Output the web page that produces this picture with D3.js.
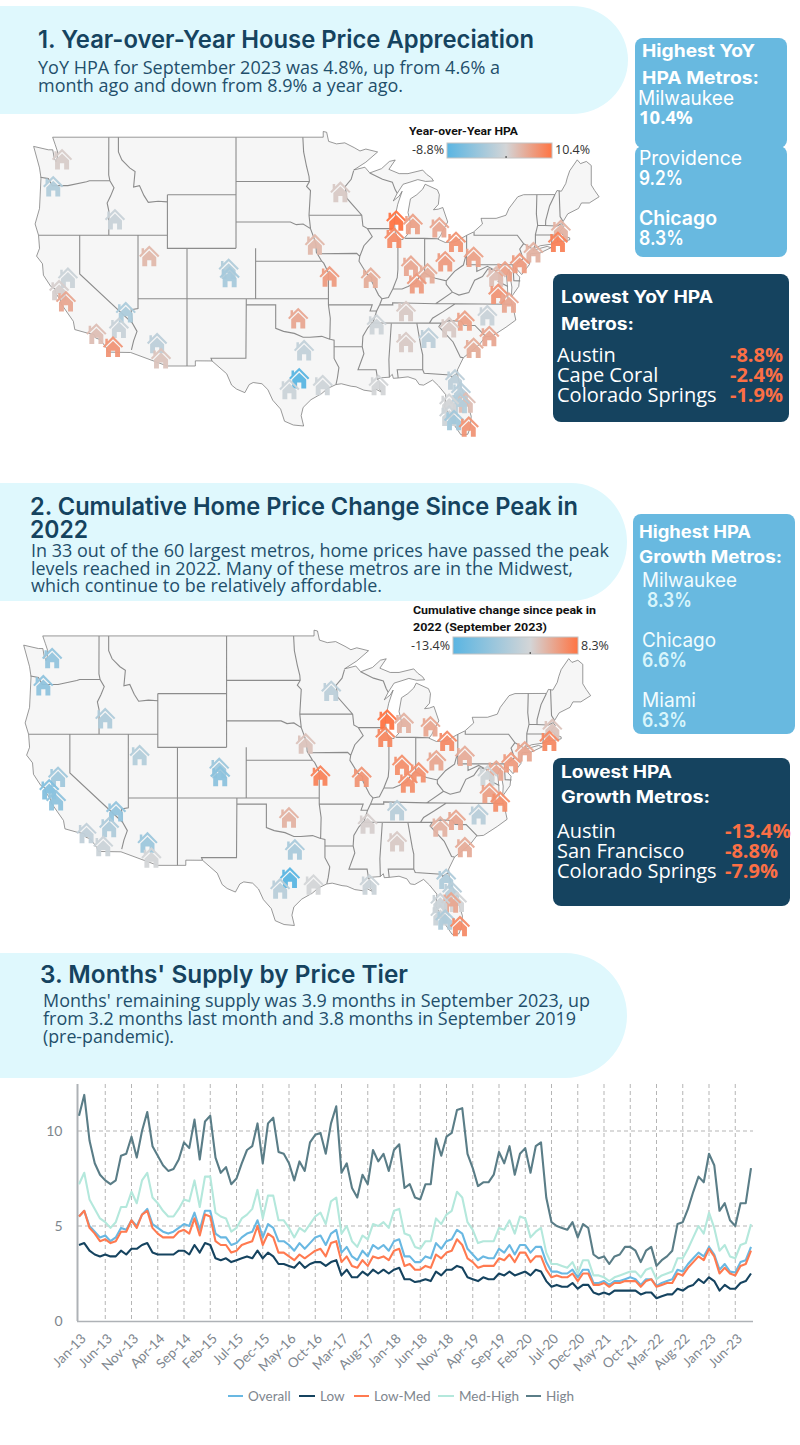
<!DOCTYPE html>
<html><head><meta charset="utf-8"><style>
html,body{margin:0;padding:0;background:#fff}
svg{display:block}
text{font-family:"Open Sans",sans-serif}
.ttl{font-family:Inter,sans-serif;font-weight:600;fill:#15435f}
.body{fill:#1f4f6b;font-size:17px}
.hd{font-family:Inter,sans-serif;font-weight:700;fill:#fff;font-size:17px}
</style></head><body>
<script src="https://cdn.jsdelivr.net/npm/d3@7"></script>
<script>
// ---------- chart 3 data: months' supply (Jan-13 .. Sep-23)
const tickLabels=["Jan-13","Jun-13","Nov-13","Apr-14","Sep-14","Feb-15","Jul-15","Dec-15","May-16","Oct-16","Mar-17","Aug-17","Jan-18","Jun-18","Nov-18","Apr-19","Sep-19","Feb-20","Jul-20","Dec-20","May-21","Oct-21","Mar-22","Aug-22","Jan-23","Jun-23"];
const overall=[5.5,5.8,5.0,4.7,4.4,4.5,4.2,4.4,4.9,4.8,5.3,5.0,5.6,5.9,5.1,4.9,4.7,4.6,4.7,4.9,5.1,5.0,5.7,4.8,5.8,5.8,4.6,4.4,4.4,4.0,4.1,4.4,4.6,4.7,5.3,4.4,5.1,4.9,4.2,4.2,4.0,3.7,4.1,3.8,4.1,4.4,4.5,4.0,4.6,4.8,3.6,3.9,3.4,3.2,3.7,3.4,4.0,3.8,4.0,3.7,4.2,4.3,3.4,3.4,3.1,3.1,3.4,3.3,4.1,3.8,4.2,4.3,4.8,4.6,3.8,3.5,3.2,3.4,3.3,3.3,3.8,3.6,4.0,3.5,4.0,4.0,3.6,3.9,3.9,3.1,2.6,2.6,2.5,2.5,2.7,2.3,2.7,2.7,2.0,2.0,2.1,1.9,2.1,2.1,2.2,2.3,2.2,1.9,2.2,2.2,1.85,2.0,2.1,2.2,2.7,2.6,3.0,3.3,3.6,3.4,3.9,3.5,2.7,3.0,2.6,2.55,3.1,3.2,3.9];
const low=[4.0,4.1,3.7,3.5,3.4,3.5,3.4,3.4,3.7,3.5,3.8,3.8,4.0,4.1,3.6,3.5,3.5,3.5,3.5,3.7,3.7,3.5,4.0,3.6,4.1,4.0,3.3,3.2,3.3,3.1,3.2,3.3,3.4,3.3,3.7,3.3,3.6,3.4,3.0,3.0,2.9,2.8,3.1,2.8,3.0,3.1,3.1,2.9,3.1,3.2,2.4,2.7,2.3,2.3,2.6,2.4,2.7,2.5,2.7,2.5,2.7,2.8,2.2,2.2,2.05,2.1,2.2,2.1,2.6,2.4,2.7,2.7,2.9,2.8,2.3,2.2,2.1,2.3,2.2,2.2,2.5,2.4,2.6,2.4,2.5,2.6,2.4,2.7,2.6,2.1,1.8,1.9,1.8,1.8,2.0,1.7,1.9,1.9,1.5,1.4,1.5,1.4,1.6,1.6,1.6,1.6,1.6,1.4,1.5,1.5,1.2,1.3,1.4,1.4,1.7,1.6,1.8,1.9,2.2,2.0,2.3,2.1,1.6,1.9,1.7,1.7,2.0,2.1,2.5];
const lowMed=[5.5,5.8,4.9,4.6,4.2,4.3,4.1,4.2,4.7,4.7,5.3,4.9,5.6,5.8,4.9,4.6,4.4,4.4,4.4,4.7,4.8,4.6,5.4,4.5,5.6,5.5,4.2,4.0,4.0,3.6,3.7,4.0,4.1,4.2,5.0,4.0,4.6,4.4,3.6,3.6,3.4,3.2,3.5,3.3,3.5,3.7,3.8,3.4,4.1,4.2,3.1,3.4,2.9,2.8,3.2,2.9,3.4,3.3,3.4,3.2,3.7,3.8,2.9,3.0,2.7,2.7,2.9,2.8,3.5,3.3,3.6,3.7,4.3,4.0,3.3,3.1,2.8,2.9,2.9,2.9,3.3,3.2,3.5,3.1,3.6,3.6,3.1,3.4,3.4,2.7,2.3,2.4,2.3,2.3,2.5,2.1,2.5,2.5,1.9,1.9,2.0,1.8,2.0,2.0,2.1,2.1,2.1,1.8,2.1,2.2,1.8,1.9,2.0,2.0,2.5,2.4,2.8,3.1,3.4,3.2,3.8,3.4,2.5,2.8,2.5,2.4,2.9,3.0,3.7];
const medHigh=[7.2,7.8,6.4,5.9,5.4,5.2,4.9,5.2,6.0,6.0,6.8,6.2,7.4,7.8,6.5,6.2,5.8,5.5,5.5,5.9,6.4,6.3,7.4,6.0,7.6,7.6,5.7,5.5,5.4,4.7,4.9,5.4,5.6,5.9,6.9,5.4,6.6,6.6,5.3,5.3,4.9,4.4,4.9,4.7,5.1,5.5,5.7,5.1,6.3,6.5,4.6,5.0,4.2,3.9,4.5,4.3,5.1,5.0,5.2,4.9,5.8,5.9,4.6,4.5,3.9,3.8,4.2,4.2,5.4,5.1,5.6,5.8,6.8,6.5,5.2,4.8,4.1,4.2,4.2,4.2,4.9,4.8,5.3,4.6,5.5,5.4,4.4,4.7,4.9,3.6,3.0,3.0,2.9,2.8,3.1,2.5,3.2,3.2,2.4,2.4,2.3,2.1,2.3,2.4,2.5,2.6,2.6,2.3,2.7,2.8,2.2,2.4,2.5,2.6,3.3,3.3,3.8,4.4,5.0,4.6,5.7,4.9,3.7,4.0,3.4,3.3,4.0,4.1,5.1];
const high=[10.8,11.9,9.5,8.3,7.7,7.4,7.2,7.4,8.7,8.8,9.7,8.6,10.0,11.0,9.2,8.7,8.2,7.9,8.0,8.5,9.4,9.1,10.6,8.5,10.5,10.8,8.6,7.8,8.1,7.2,7.5,8.3,9.0,9.2,10.4,8.3,10.4,10.7,8.9,8.8,8.3,7.4,8.4,7.9,9.4,9.8,9.9,8.8,10.4,11.3,7.8,8.3,7.0,6.5,7.7,7.2,9.0,8.4,8.8,7.9,9.0,9.3,7.0,7.2,6.5,6.4,7.2,7.2,9.6,8.7,9.7,9.9,11.1,11.2,8.8,8.05,7.1,7.3,7.3,7.7,8.9,8.3,9.2,7.7,8.8,9.1,7.8,9.2,9.4,6.5,5.2,5.0,4.9,4.8,5.2,4.4,5.1,4.9,3.5,3.3,3.4,3.0,3.4,3.5,3.9,3.9,3.7,3.1,3.7,3.9,2.9,3.2,3.4,3.7,5.1,5.2,5.9,6.8,7.6,7.3,8.8,8.2,5.8,6.2,5.3,5.0,6.2,6.2,8.05];
const seriesNames=["Overall","Low","Low-Med","Med-High","High"];
const seriesColors=["#69b8e2","#15435f","#ff7a50","#b4e8dc","#5a7d87"];
const seriesValues=[overall,low,lowMed,medHigh,high];
const yTicks=[0,5,10];

// ---------- metros
const metroNames=["Seattle","Portland","Boise","Minneapolis","Salt Lake City","Denver","Colorado Springs","Omaha","Kansas City","St. Louis","Milwaukee","Grand Rapids","Detroit","Chicago","Cleveland","Columbus","Pittsburgh","Indianapolis","Cincinnati","Louisville","Boston","Providence","New York","Philadelphia","Baltimore","Washington","Richmond","Virginia Beach","Raleigh","Charlotte","Atlanta","Greenville","Myrtle Beach","Charleston","Nashville","Memphis","Birmingham","New Orleans","Oklahoma City","Dallas","Austin","San Antonio","Houston","Phoenix","Tucson","Las Vegas","Sacramento","San Francisco","San Jose","Riverside","Los Angeles","San Diego","Jacksonville","Orlando","Tampa","Deltona","Palm Bay","North Port","Cape Coral","Miami"];
const metroLon=[-121.8,-122.7,-116.4,-93.4,-112.9,-104.8,-104.7,-96.0,-94.5,-90.3,-87.7,-86.0,-83.3,-87.9,-81.6,-82.7,-79.8,-86.2,-84.5,-85.6,-70.9,-71.2,-73.7,-75.1,-76.6,-77.5,-77.3,-76.2,-78.4,-80.7,-84.4,-82.3,-78.2,-79.8,-86.7,-89.7,-86.7,-89.5,-97.7,-97.1,-97.6,-98.6,-95.2,-112.1,-111.7,-115.3,-121.2,-122.1,-121.4,-116.0,-118.3,-116.6,-81.7,-81.1,-82.3,-81.2,-80.6,-82.3,-81.8,-80.3];
const metroLat=[47.5,45.6,43.2,45.2,40.4,39.4,38.75,41.3,38.8,38.7,43.1,42.85,42.6,41.8,41.5,40.0,40.35,39.65,39.05,38.25,42.4,41.5,40.7,39.85,39.2,38.8,37.4,36.7,35.65,35.2,33.75,34.65,33.9,32.9,36.0,34.9,33.4,29.65,35.4,32.7,30.25,29.3,29.65,33.3,32.0,35.9,38.7,37.7,36.8,34.6,34.1,33.0,30.15,29.0,28.0,28.05,28.1,26.9,26.5,25.9];
const hpaYoY=[2.8,-1,1,3,4.5,-1,-1.9,4.5,7,5.5,10.4,6.5,6,8.3,7.7,7,6.5,6,5.5,7,5,9.2,5,7,6.5,4,7.5,6,1,6.5,0,3,6,5.5,3,1.5,3,2,6,0.5,-8.8,1.2,1.5,0,3.5,-1.5,1.2,2.5,6,1,4,7.5,0,-0.5,2,-0.8,4,1.5,-2.4,7.5];
const hpaPeak=[-7,-7.5,-4,-2.5,-3.5,-6,-7.9,1.5,7,5.5,8.3,3,4,6.6,6.3,4,3.5,6,5.8,6,1.5,6.5,4,5,4,-0.5,4.5,6,-3,4,null,3,null,3.5,-3,0.5,1,-1,3,-4.5,-13.4,-3,0,-6,0,-7,-5.5,-8.8,-7.5,-4,-2,-1,-4,-3,-1,4,0,-1,-4,6.3];

// ---------- geography: [lon,lat] polylines
const usOutline=[[-124.7,48.38],[-123.2,48.15],[-122.75,48.15],[-122.6,47.6],[-122.4,47.3],[-122.3,47.6],[-122.25,48.0],[-122.5,48.5],[-122.76,49],[-95.15,49],[-95.15,49.38],[-94.8,49.33],[-94.6,48.72],[-93.8,48.55],[-92.95,48.62],[-92,48.3],[-91.4,48.07],[-90.8,48.2],[-89.6,48],[-90.8,47.3],[-92.05,46.75],[-90.9,46.95],[-90.4,46.55],[-89.2,46.85],[-88.4,47.35],[-87.8,47.45],[-88.45,46.8],[-87.4,46.5],[-86.5,46.5],[-85,46.75],[-84.6,46.45],[-84.1,46.2],[-83.9,45.98],[-84.7,45.95],[-85.5,46.08],[-86.3,45.9],[-87,45.75],[-87.6,45.1],[-88,44.55],[-87.4,44.9],[-87.1,45.25],[-87.55,44.3],[-87.9,43.1],[-87.8,42.3],[-87.55,41.7],[-87,41.68],[-86.5,42.1],[-86.2,42.8],[-86.5,43.7],[-86.25,44.7],[-85.6,45],[-85,45.4],[-84.75,45.75],[-83.5,45.35],[-83.3,45],[-83.4,44.3],[-83.9,43.9],[-83.4,43.95],[-82.95,44.07],[-82.45,43],[-82.9,42.4],[-83.15,42],[-83.45,41.7],[-82.7,41.45],[-81.7,41.5],[-80.5,42],[-79.8,42.25],[-78.9,42.85],[-79.05,43.27],[-77.5,43.27],[-76.5,43.5],[-76.2,44],[-75.3,44.85],[-74.7,45],[-71.5,45.01],[-71.3,45.3],[-70.85,45.25],[-70.4,45.8],[-70.25,46.2],[-70,46.7],[-69.23,47.46],[-68.9,47.2],[-68.3,47.35],[-67.8,47.07],[-67.8,45.7],[-67.45,45.3],[-67,44.85],[-68,44.4],[-68.8,44.4],[-69.1,44],[-70.2,43.6],[-70.7,43],[-70.8,42.85],[-70.6,42.65],[-71,42.3],[-70.6,41.95],[-70,41.8],[-70,41.65],[-70.6,41.55],[-71.2,41.5],[-71.4,41.45],[-71.85,41.32],[-73,41.2],[-73.65,40.98],[-73.75,40.85],[-72.3,41.15],[-71.9,41.05],[-73,40.65],[-74,40.58],[-74,40.4],[-74.1,39.75],[-74.9,38.95],[-75.55,39.5],[-75.4,39],[-75.1,38.75],[-75.2,38],[-75.95,37.15],[-75.9,37.95],[-76.2,39.35],[-76.45,38.9],[-76.35,38],[-76.3,37],[-75.98,36.85],[-75.75,36.2],[-75.5,35.25],[-76.5,34.65],[-77.9,33.9],[-78.6,33.85],[-79.2,33.2],[-79.9,32.7],[-80.85,32.05],[-81.45,31],[-81.4,30.4],[-81.25,29.8],[-80.6,28.45],[-80.05,26.85],[-80.15,25.8],[-80.4,25.2],[-81.1,25.15],[-81.75,26],[-82.05,26.6],[-82.75,27.7],[-82.65,28.8],[-83.4,29.6],[-84,30.1],[-84.9,29.65],[-85.35,29.7],[-85.7,30.15],[-86.5,30.38],[-87.5,30.28],[-88,30.25],[-88.1,30.6],[-88.4,30.35],[-89.2,30.3],[-89.6,30.18],[-89.4,29.9],[-89.4,29.3],[-89.15,29],[-89.8,29.3],[-90.2,29.1],[-91,29.2],[-91.8,29.5],[-92.3,29.55],[-93.3,29.77],[-93.85,29.7],[-94.7,29.35],[-95.3,28.9],[-96.4,28.35],[-97.2,27.65],[-97.4,26.9],[-97.15,25.96],[-98.2,26.05],[-99.1,26.4],[-99.5,27.5],[-100.3,28.3],[-100.8,29.25],[-101.4,29.77],[-102.3,29.88],[-102.7,29.7],[-103.15,28.98],[-104,29.3],[-104.5,29.65],[-105,30.65],[-106.5,31.77],[-108.2,31.78],[-108.2,31.33],[-111.07,31.33],[-114.8,32.5],[-117.12,32.53],[-117.25,32.85],[-117.9,33.6],[-118.4,33.75],[-118.5,34.03],[-119.2,34.15],[-120.5,34.45],[-120.65,35.15],[-121.9,36.6],[-122,36.95],[-122.5,37.5],[-122.5,37.8],[-122.95,38],[-123.7,38.9],[-123.8,39.8],[-124.4,40.4],[-124.1,41],[-124.2,42],[-124.55,42.85],[-124.1,44],[-123.95,46.2],[-124.1,46.9],[-124.7,48.38]];
const stateBorders=[
[[-124,46.25],[-123.2,46.15],[-122.8,45.65],[-121.2,45.65],[-119.3,45.93],[-119,46],[-116.92,46]],
[[-117.03,49],[-117.04,46.4],[-116.92,46],[-116.5,45.5],[-116.85,44.9],[-117.2,44.4],[-117.03,43.83],[-117.03,42]],
[[-116.05,49],[-116.05,48],[-115.7,47.45],[-114.9,46.9],[-114.35,46.65],[-114.5,45.55],[-113.9,45.65],[-113.45,44.95],[-113,44.45],[-112,44.53],[-111.05,44.48]],
[[-124.2,42],[-111.05,42]],
[[-111.05,45],[-111.05,41],[-104.05,41]],
[[-111.05,45],[-104.05,45]],
[[-111.05,41],[-109.05,41]],
[[-120,42],[-120,39],[-114.63,35]],
[[-114.05,42],[-114.05,36.2],[-114.75,36.1],[-114.63,35],[-114.15,34.3],[-114.5,33.5],[-114.72,32.72]],
[[-114.05,37],[-94.62,37]],
[[-109.05,41],[-109.05,31.33]],
[[-104.05,49],[-104.05,41]],
[[-104.05,45.94],[-96.56,45.94]],
[[-104.05,43],[-98.5,43],[-97.9,42.8],[-97.2,42.85],[-96.45,42.5]],
[[-102.05,41],[-102.05,37]],
[[-102.05,40],[-95.3,40]],
[[-103,37],[-103.04,32],[-106.6,32],[-106.5,31.77]],
[[-103,36.5],[-100,36.5],[-100,34.56],[-99.2,34.3],[-98.1,34.13],[-97.2,33.8],[-96.5,33.8],[-95.3,33.88],[-94.48,33.64]],
[[-94.62,37],[-94.62,36.5],[-94.43,35.4],[-94.48,33.64],[-94.04,33.55],[-94.04,31.99],[-93.55,31.2],[-93.7,30.3],[-93.85,29.7]],
[[-94.04,33.02],[-91.17,33]],
[[-94.62,36.5],[-90.15,36.5],[-90.37,36],[-89.7,36]],
[[-94.62,37],[-94.62,39.1],[-95.1,39.85],[-95.3,40],[-95.85,40.7],[-95.9,41.3],[-96.1,41.8],[-96.45,42.5],[-96.6,43.5],[-96.45,45.3],[-96.85,45.6],[-96.56,45.94],[-96.6,46.3],[-96.85,47],[-97.15,48],[-97.23,49]],
[[-96.6,43.5],[-91.22,43.5]],
[[-95.77,40.58],[-91.73,40.61],[-91.42,40.38]],
[[-92.05,46.7],[-92.3,46.1],[-92.9,45.6],[-92.75,44.75],[-91.22,43.5],[-91.1,42.7],[-90.64,42.5],[-90.15,41.9],[-91,41.2],[-91.42,40.38],[-91.5,40],[-90.7,39],[-90.2,38.7],[-90.2,38.4],[-89.5,37.3],[-89.15,37],[-89.4,36.5],[-89.7,36],[-90.05,35.1],[-90.6,34.6],[-91.1,33.9],[-91.17,33],[-91,32.4],[-91.6,31],[-89.75,31],[-89.6,30.18]],
[[-90.4,46.55],[-89.1,46.1],[-88.1,45.9],[-87.8,45.35],[-87.6,45.1]],
[[-90.64,42.5],[-87.8,42.5]],
[[-87.53,41.7],[-87.53,39.35],[-87.6,38.7],[-88.05,37.8]],
[[-89.15,37],[-88.5,37.1],[-88.05,37.8],[-87.1,37.8],[-86.5,38],[-85.7,38.3],[-85.4,38.7],[-84.8,39.1],[-84.2,38.8],[-83.7,38.65],[-82.6,38.45],[-81.75,39.2],[-80.85,39.7],[-80.52,40.64]],
[[-84.8,39.1],[-84.8,41.76]],
[[-86.8,41.76],[-84.8,41.76],[-83.45,41.73]],
[[-80.52,42],[-80.52,39.72],[-75.79,39.72],[-75.7,38.46],[-75.05,38.45]],
[[-79.76,42.25],[-79.76,42],[-75.35,42],[-74.7,41.36],[-75.1,40.95],[-74.75,40.2],[-75.4,39.8]],
[[-79.48,39.72],[-79.48,39.2],[-78.4,39.6],[-77.72,39.32],[-78.35,39.4],[-78.9,38.8],[-79.7,38.5],[-80.3,37.5],[-81.3,37.3],[-81.97,37.54],[-82.6,38.17],[-82.6,38.45]],
[[-81.97,37.54],[-83.68,36.6]],
[[-89.4,36.5],[-88.05,36.5],[-88.07,36.68],[-83.68,36.6],[-81.68,36.59],[-75.87,36.55]],
[[-77.72,39.32],[-77.05,38.85],[-77.3,38.4],[-76.3,38]],
[[-90.3,35],[-84.32,34.99],[-84,35.4],[-82.9,35.95],[-81.68,36.59]],
[[-84.32,34.99],[-83.1,35],[-82.3,35.2],[-81.05,35.15],[-80.8,34.82],[-79.67,34.8],[-78.55,33.86]],
[[-83.1,35],[-83.35,34.7],[-81.9,33.4],[-81.15,32.1],[-80.85,32.05]],
[[-85.6,34.98],[-85.15,32.85],[-85,32.3],[-85,31],[-87.6,31],[-87.5,30.28]],
[[-85,31],[-84.85,30.7],[-82.2,30.55],[-82.05,30.35],[-81.45,30.7]],
[[-88.2,35],[-88.45,31.9],[-88.4,30.35]],
[[-73.35,45],[-73.4,43.6],[-73.27,42.75],[-73.5,42.05],[-73.5,41.3],[-73.65,41]],
[[-71.5,45.01],[-72.05,44.2],[-72.45,43.1],[-72.46,42.73]],
[[-73.27,42.75],[-71.3,42.7],[-70.85,42.87]],
[[-73.5,42.04],[-71.38,42.02],[-71.2,41.5]],
[[-71.8,42.02],[-71.85,41.32]],
[[-71.08,45.3],[-70.98,43.4],[-70.7,43.07]],
[[-74.7,41.36],[-73.9,41]]
];

const W=800,H=1445,blue="#5ab5e2",mid="#d3d5d7",orange="#ff7443";
const svg=d3.select("body").append("svg").attr("width",W).attr("height",H).attr("viewBox",`0 0 ${W} ${H}`);
const defs=svg.append("defs");

function banner(y0,y1,right,rx){const ry=(y1-y0)/2;
  svg.append("path").attr("fill","#dff8fd").attr("d",`M0,${y0}H${right-rx}A${rx},${ry} 0 0 1 ${right-rx},${y1}H0Z`);}
function txt(t,x,y,size,cls,fill,weight,len){const n=svg.append("text").attr("x",x).attr("y",y).text(t);
  if(cls)n.attr("class",cls);if(size)n.style("font-size",size+"px");if(fill)n.style("fill",fill);if(weight)n.style("font-weight",weight);
  if(len)n.attr("textLength",len).attr("lengthAdjust","spacingAndGlyphs");return n;}
function panel(x,y,w,h,c){svg.append("rect").attr("x",x).attr("y",y).attr("width",w).attr("height",h).attr("rx",8).attr("fill",c);}

const house="M-10.2,-0.3 L-7.7,-2.9 L-7.7,-7.9 L-5.2,-7.9 L-5.2,-5.5 L0,-10.6 L10.2,-0.3 L8.7,1.1 L0,-7.5 L-8.7,1.1 Z M-7,1.1 L0,-5.7 L7,1.1 L7,10.2 L2.1,10.2 L2.1,4.1 L-2.1,4.1 L-2.1,10.2 L-7,10.2 Z";

function drawMap(scale,tx,ty,values,domain,range){
  const merc=d3.geoMercator().scale(scale).translate([tx,ty]);
  const planar=d3.geoTransform({point(x,y){const p=merc([x,y]);this.stream.point(p[0],p[1]);}});
  const path=d3.geoPath(planar);
  const g=svg.append("g");
  g.append("path").datum({type:"Polygon",coordinates:[usOutline]}).attr("d",path).attr("fill","#f6f6f6").attr("stroke","#6f6f6f").attr("stroke-width",0.7).attr("stroke-linejoin","round");
  g.append("path").datum({type:"MultiLineString",coordinates:stateBorders}).attr("d",path).attr("fill","none").attr("stroke","#8c8c8c").attr("stroke-width",1.1);
  const color=d3.scaleLinear().domain(domain).range(range).interpolate(d3.interpolateRgb);
  const idx=d3.range(metroNames.length).filter(i=>values[i]!=null).sort((a,b)=>metroLat[b]-metroLat[a]);
  g.selectAll("path.h").data(idx).join("path").attr("class","h").attr("d",house)
   .attr("transform",i=>{const p=merc([metroLon[i],metroLat[i]]);return `translate(${p[0]},${p[1]})`;})
   .attr("fill",i=>color(values[i])).attr("opacity",0.95).append("title").text(i=>metroNames[i]);
}
function legend(id,x0,x1,y0,y1,domain,lo,hi,loX,hiX,txtY){
  const s=d3.scaleLinear().domain([domain[0],domain[2]]).range([0,100]);
  const grad=defs.append("linearGradient").attr("id",id);
  grad.selectAll("stop").data(domain).join("stop").attr("offset",d=>s(d)+"%").attr("stop-color",(d,i)=>[blue,mid,orange][i]);
  svg.append("rect").attr("x",x0).attr("y",y0).attr("width",x1-x0).attr("height",y1-y0).attr("fill",`url(#${id})`).attr("stroke","#c4c4c4").attr("stroke-width",1);
  const tx=x0+(x1-x0)*s(domain[1])/100;
  svg.append("line").attr("x1",tx).attr("x2",tx).attr("y1",y1-2).attr("y2",y1).attr("stroke","#333");
  txt(lo,loX,txtY,12.5,null,"#333").attr("text-anchor","end");
  txt(hi,hiX,txtY,12.5,null,"#333");
}

// ---- section 1
banner(6,114,628,56);
txt("1. Year-over-Year House Price Appreciation",38,48,24.5,"ttl",null,null,496);
txt("YoY HPA for September 2023 was 4.8%, up from 4.6% a",38,74,18.5,"body",null,null,462);
txt("month ago and down from 8.9% a year ago.",38,92,18.5,"body",null,null,365);
drawMap(561.5,1255.7,689.6,hpaYoY,[-8.8,2,10.4],[blue,mid,orange]);
txt("Year-over-Year HPA",409,135,10.5,null,"#111","700",109).style("font-family","Roboto,sans-serif");
legend("g1",447,552,143,158,[-8.8,2,10.4],"-8.8%","10.4%",444,555,154);
panel(635,38,152,110,"#68b9e0");panel(635,146,152,111,"#68b9e0");
txt("Highest YoY",642,57,18,"hd",null,null,113);
txt("HPA Metros:",642,84,18,"hd",null,null,117);
txt("Milwaukee",638,105,19.5,"ttl","#fff","400",96);
txt("10.4%",639,124,18.5,null,"#fff","700");
txt("Providence",639,165,19.5,"ttl","#fff","400",103);
txt("9.2%",639,185,19.5,"ttl","#fff","600",44);
txt("Chicago",639,225,19.5,"ttl","#fff","600",78);
txt("8.3%",639,245,19.5,"ttl","#fff","600",45);
panel(553,274,236,148,"#15435f");
txt("Lowest YoY HPA",561,303,17,"hd",null,null,152);
txt("Metros:",561,330,17,"hd",null,null,73);
[["Austin","-8.8%",362],["Cape Coral","-2.4%",382],["Colorado Springs","-1.9%",402]].forEach(d=>{
  txt(d[0],557,d[2],20,null,"#fff");txt(d[1],730,d[2],20,null,"#fb6f45","700",53);});

// ---- section 2
banner(483,601,627,56);
txt("2. Cumulative Home Price Change Since Peak in",30,515,24.5,"ttl",null,null,548);
txt("2022",30,538,24.5,"ttl",null,null,58);
txt("In 33 out of the 60 largest metros, home prices have passed the peak",31,557,19,"body",null,null,578);
txt("levels reached in 2022. Many of these metros are in the Midwest,",31,575,19,"body",null,null,542);
txt("which continue to be relatively affordable.",31,592,19,"body",null,null,351);
drawMap(563,1249,1189.8,hpaPeak,[-13.4,0,8.3],[blue,mid,orange]);
txt("Cumulative change since peak in",413,614,10.5,null,"#111","700",183).style("font-family","Roboto,sans-serif");
txt("2022 (September 2023)",413,631,10.5,null,"#111","700",134).style("font-family","Roboto,sans-serif");
legend("g2",453,578,637,654,[-13.4,0,8.3],"-13.4%","8.3%",450,581,650);
panel(633,514,162,220,"#68b9e0");
txt("Highest HPA",639,538,17,"hd",null,null,112);
txt("Growth Metros:",639,563,17,"hd",null,null,143);
[["Milwaukee","8.3%",642,647,587,607,95],["Chicago","6.6%",642,642,647,667,74],["Miami","6.3%",642,642,707,727,54]].forEach(d=>{
  txt(d[0],d[2],d[4],19.5,"ttl","#f2fcfe","400",d[6]);txt(d[1],d[3],d[5],19.5,"ttl","#d8f5fb","600",45);});
panel(553,758,237,148,"#15435f");
txt("Lowest HPA",561,778,17,"hd",null,null,111);
txt("Growth Metros:",561,803,17,"hd",null,null,149);
[["Austin","-13.4%",838,66],["San Francisco","-8.8%",858,53],["Colorado Springs","-7.9%",878,53]].forEach(d=>{
  txt(d[0],557,d[2],20,null,"#fff");txt(d[1],725,d[2],20,null,"#fb6f45","700",d[3]);});

// ---- section 3
banner(953,1078,627,62);
txt("3. Months' Supply by Price Tier",40,983,24.5,"ttl",null,null,368);
txt("Months' remaining supply was 3.9 months in September 2023, up",43,1007,18.5,"body",null,null,547);
txt("from 3.2 months last month and 3.8 months in September 2019",43,1025,18.5,"body",null,null,533);
txt("(pre-pandemic).",43,1043,18.5,"body",null,null,131);

const x=d3.scaleLinear().domain([0,128]).range([79,751]);
const y=d3.scaleLinear().domain([0,10]).range([1321,1131]);
const tickIdx=tickLabels.map((_,i)=>i*5);
const grid=svg.append("g").attr("stroke","#b5b5b5").attr("stroke-dasharray","4 3").attr("stroke-width",1);
grid.selectAll("line.v").data(tickIdx.slice(1)).join("line").attr("x1",d=>x(d)).attr("x2",d=>x(d)).attr("y1",1084).attr("y2",y(0));
grid.selectAll("line.h").data(yTicks.slice(1)).join("line").attr("x1",78).attr("x2",753).attr("y1",d=>y(d)).attr("y2",d=>y(d));
const xAxis=d3.axisBottom(x).tickValues(tickIdx).tickFormat((d,i)=>tickLabels[i]).tickSize(0).tickPadding(0);
const gx=svg.append("g").attr("transform",`translate(0,${y(0)})`).call(xAxis);
gx.select(".domain").attr("stroke","#aeb2b6").attr("stroke-width",1.5).attr("d","M77,0.5H753");
gx.selectAll("text").attr("text-anchor","end").attr("x",0).attr("y",0).attr("dy","0.35em").attr("transform","translate(4,15) rotate(-45)")
  .style("font-family","Lato,sans-serif").style("font-size","13.5px").style("fill","#7e868e");
const yAxis=d3.axisLeft(y).tickValues(yTicks).tickSize(0).tickPadding(15).tickFormat(d3.format("d"));
const gy=svg.append("g").attr("transform","translate(77.5,0)").call(yAxis);
gy.select(".domain").attr("stroke","#aeb2b6").attr("stroke-width",2).attr("d","M0,1084V1321");
gy.selectAll("text").style("font-family","Lato,sans-serif").style("font-size","14px").style("fill","#7e868e");
const line=d3.line().x((d,i)=>x(i)).y(d=>y(d));
svg.append("g").attr("fill","none").attr("stroke-width",2.1).attr("stroke-linejoin","round")
  .selectAll("path").data(seriesValues).join("path").attr("stroke",(d,i)=>seriesColors[i]).attr("d",line);
const legX=[228,299,354,438,526],legW=[15,16,15,16,15];
const lg=svg.append("g").selectAll("g").data(seriesNames).join("g").attr("transform",(d,i)=>`translate(${legX[i]},1396)`);
lg.append("line").attr("x2",(d,i)=>legW[i]).attr("y1",0).attr("y2",0).attr("stroke",(d,i)=>seriesColors[i]).attr("stroke-width",2);
lg.append("text").attr("x",(d,i)=>legW[i]+5).attr("dy","0.35em").text(d=>d).style("font-family","Lato,sans-serif").style("font-size","13.5px").style("fill","#7e868e");
</script></body></html>
